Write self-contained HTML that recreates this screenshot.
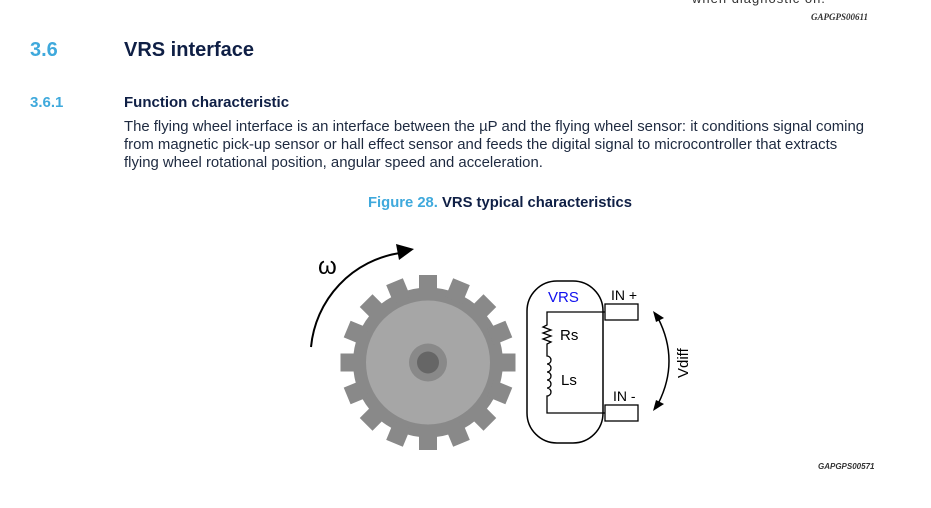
<!DOCTYPE html>
<html><head><meta charset="utf-8"><style>
body{margin:0;width:931px;height:508px;background:#fff;position:relative;overflow:hidden;font-family:"Liberation Sans",Arial,sans-serif}
.a{position:absolute;white-space:nowrap}
</style></head><body>
<div class="a" style="left:692px;top:-9px;font-size:13px;color:#333;letter-spacing:1px">when diagnostic on.</div>
<div class="a" style="left:811px;top:12px;font-size:9px;font-style:italic;font-weight:bold;color:#333;font-family:'Liberation Serif',serif">GAPGPS00611</div>
<div class="a" style="left:30px;top:39px;font-size:20px;font-weight:bold;color:#3fa9dc">3.6</div>
<div class="a" style="left:124px;top:39px;font-size:20px;font-weight:bold;color:#0f1f45">VRS interface</div>
<div class="a" style="left:30px;top:94px;font-size:15px;font-weight:bold;color:#3fa9dc">3.6.1</div>
<div class="a" style="left:124px;top:94px;font-size:15px;font-weight:bold;color:#0f1f45">Function characteristic</div>
<div class="a" style="left:124px;top:118px;font-size:14.9px;line-height:18px;color:#1e2a40">The flying wheel interface is an interface between the µP and the flying wheel sensor: it conditions signal coming<br>from magnetic pick-up sensor or hall effect sensor and feeds the digital signal to microcontroller that extracts<br>flying wheel rotational position, angular speed and acceleration.</div>
<div class="a" style="left:368px;top:195px;font-size:14.8px;font-weight:bold;color:#3fa9dc">Figure 28. <span style="color:#0f1f45">VRS typical characteristics</span></div>
<div class="a" style="left:818px;top:462px;font-size:8px;font-style:italic;font-weight:bold;color:#333">GAPGPS00571</div>
<svg width="931" height="508" style="position:absolute;left:0;top:0">
<g transform="translate(428,362.5)" fill="#898989">
<circle r="75"/>
<g id="t"><rect x="-9" y="-87.5" width="18" height="20"/></g>
<use href="#t" transform="rotate(22.5)"/><use href="#t" transform="rotate(45)"/><use href="#t" transform="rotate(67.5)"/>
<use href="#t" transform="rotate(90)"/><use href="#t" transform="rotate(112.5)"/><use href="#t" transform="rotate(135)"/>
<use href="#t" transform="rotate(157.5)"/><use href="#t" transform="rotate(180)"/><use href="#t" transform="rotate(202.5)"/>
<use href="#t" transform="rotate(225)"/><use href="#t" transform="rotate(247.5)"/><use href="#t" transform="rotate(270)"/>
<use href="#t" transform="rotate(292.5)"/><use href="#t" transform="rotate(315)"/><use href="#t" transform="rotate(337.5)"/>
<circle r="62" fill="#a6a6a6"/>
<circle r="19" fill="#898989"/>
<circle r="11" fill="#666"/>
</g>
<path d="M311,347 A105,105 0 0 1 400,253" fill="none" stroke="#000" stroke-width="2"/>
<polygon points="396,244 414,249 399,260" fill="#000"/>
<text x="318" y="274" font-size="24" font-family="Liberation Sans,sans-serif">ω</text>
<rect x="527" y="281" width="76" height="162" rx="30" fill="none" stroke="#000" stroke-width="1.5"/>
<rect x="605" y="304" width="33" height="16" fill="#fff" stroke="#000" stroke-width="1.3"/>
<rect x="605" y="405" width="33" height="16" fill="#fff" stroke="#000" stroke-width="1.3"/>
<path d="M605,312 H547 V325 l-4,2 8,3 -8,3 8,3 -8,3 8,3 -4,2 V356 a4,4 0 1 1 0,8 a4,4 0 1 1 0,8 a4,4 0 1 1 0,8 a4,4 0 1 1 0,8 a4,4 0 1 1 0,8 V413 H605" fill="none" stroke="#000" stroke-width="1.3"/>
<text x="548" y="302" font-size="15" fill="#1010ee" font-family="Liberation Sans,sans-serif">VRS</text>
<text x="560" y="340" font-size="15" font-family="Liberation Sans,sans-serif">Rs</text>
<text x="561" y="385" font-size="15" font-family="Liberation Sans,sans-serif">Ls</text>
<text x="611" y="300" font-size="14" font-family="Liberation Sans,sans-serif">IN +</text>
<text x="613" y="401" font-size="14" font-family="Liberation Sans,sans-serif">IN -</text>
<path d="M658,318 Q680,361 658,404" fill="none" stroke="#000" stroke-width="1.5"/>
<polygon points="653,311 664,318 656,322" fill="#000"/>
<polygon points="653,411 664,404 656,400" fill="#000"/>
<text x="688" y="378" font-size="15" transform="rotate(-90 688 378)" font-family="Liberation Sans,sans-serif">Vdiff</text>
</svg>
</body></html>
